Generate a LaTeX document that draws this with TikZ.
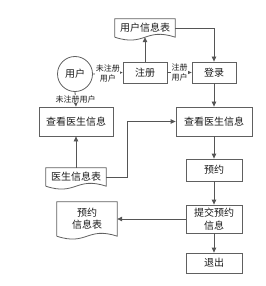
\documentclass[tikz,border=0pt]{standalone}
\usepackage{fontspec}
\usepackage{tikz}
\usetikzlibrary{arrows.meta,calc,positioning}
\newfontfamily\cjk{Noto Sans CJK SC}
\definecolor{flow-line}{HTML}{555555}
\definecolor{flow-edge}{HTML}{606060}
\definecolor{flow-ink}{HTML}{1A1A1A}

% Dokument-kontur med boelget bund
\newcommand\docoutline[1]{%
  \draw[docline] (#1.south west) -- (#1.north west) -- (#1.north east) -- (#1.south east)
    .. controls ($(#1.south)+(0,-10)$) and ($(#1.south)+(0,10)$) .. (#1.south west);}

\begin{document}
\begin{tikzpicture}[x=1pt,y=-1pt,>={Triangle[length=5pt,width=4.5pt]},
  every node/.style={font=\cjk\fontsize{10}{12}\selectfont,text=flow-ink},
  box/.style={draw=flow-edge,line width=0.8pt,minimum height=#1,inner sep=1pt},
  box/.default=21pt,
  doc/.style={minimum width=60pt,minimum height=#1,inner sep=1pt,align=center},
  docline/.style={draw=flow-edge,line width=0.8pt},
  flow/.style={->,draw=flow-line,line width=0.8pt},
  tag/.style={fill=white,inner sep=0.5pt,align=center,
    font=\cjk\fontsize{8}{10}\selectfont}]
  \useasboundingbox (0,0) rectangle (265,286);

  % Bruger og registrering
  \node[draw=flow-edge,line width=0.8pt,circle,minimum size=35pt,inner sep=0pt] (user) at (75,74) {用户};
  \node[box,minimum width=44pt] (reg) at (145,72.5) {注册};
  \node[box,minimum width=44pt] (login) at (214,72.5) {登录};
  \node[doc=18pt] (utab) at (145,28) {用户信息表};
  \docoutline{utab}

  % Laege-oplysninger
  \node[box=29pt,minimum width=74pt] (viewL) at (76,121.5) {查看医生信息};
  \node[box=29pt,minimum width=76pt] (viewR) at (214,121.5) {查看医生信息};
  \node[doc=18pt] (dtab) at (76,177) {医生信息表};
  \docoutline{dtab}

  % Booking og udgang
  \node[box=22pt,minimum width=56pt] (book) at (214,170) {预约};
  \node[box=28pt,minimum width=56pt,align=center] (submit) at (214,219) {提交预约\\[1pt]信息};
  \node[box=20pt,minimum width=56pt] (quit) at (214,263) {退出};
  \node[doc=34pt] (btab) at (87,219) {预约\\[0pt]信息表};
  \docoutline{btab}

  % Forbindelser
  \draw[flow] (user.east) -- node[tag] {未注册\\用户} (reg.west);
  \draw[flow] (reg.east) -- node[tag] {注册\\用户} (login.west);
  \draw[flow] (user.south) -- node[tag] {未注册用户} (viewL.north);
  \draw[flow] (reg.north) -- (utab.south);
  \draw[flow] (utab.east) -| (login.north);
  \draw[flow] (login.south) -- (viewR.north);
  \draw[flow] (dtab.north) -- (viewL.south);
  \draw[flow] (dtab.east) -- ++(21,0) |- (viewR.west);
  \draw[flow] (viewR.south) -- (book.north);
  \draw[flow] (book.south) -- (submit.north);
  \draw[flow] (submit.south) -- (quit.north);
  \draw[flow] (submit.west) -- (btab.east);
\end{tikzpicture}
\end{document}
